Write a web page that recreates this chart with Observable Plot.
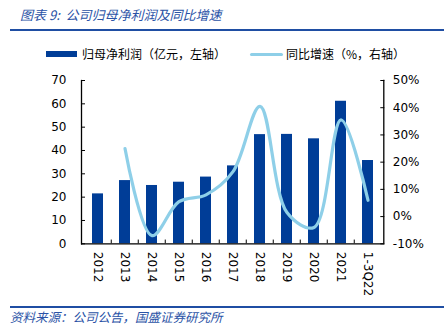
<!DOCTYPE html>
<html><head><meta charset="utf-8">
<script src="https://cdn.jsdelivr.net/npm/d3@7"></script>
<script src="https://cdn.jsdelivr.net/npm/@observablehq/plot@0.6"></script>
<style>
body{margin:0;background:#fff;width:444px;height:336px;overflow:hidden;position:relative;font-family:"Noto Sans CJK SC",sans-serif;}
#title{position:absolute;left:20px;top:5px;font-size:13px;font-style:italic;color:#2a52a6;}
#tline{position:absolute;left:10px;right:0;top:28.5px;height:2px;background:#1f4ea3;}
#legend{position:absolute;top:45px;left:0;width:444px;font-size:12px;color:#000;}
.lg{position:absolute;top:0;white-space:nowrap;}
#chart{position:absolute;left:0;top:65px;}
#bline{position:absolute;left:10px;right:0;top:306px;height:1.5px;background:#1f4ea3;}
#src{position:absolute;left:10px;top:307px;font-size:12.5px;font-style:italic;color:#2a52a6;}
</style></head>
<body>
<div id="title">图表 9:&nbsp; 公司归母净利润及同比增速</div>
<div id="tline"></div>
<div id="legend">
  <div class="lg" style="left:46px;top:6px;width:31px;height:6px;background:#003d97"></div>
  <div class="lg" style="left:82px;">归母净利润（亿元，左轴）</div>
  <div class="lg" style="left:250px;top:7.5px;width:33px;height:3px;background:#8ecfe8;border-radius:1.5px"></div>
  <div class="lg" style="left:286px;">同比增速（%，右轴）</div>
</div>
<div id="chart"></div>
<div id="bline"></div>
<div id="src">资料来源：公司公告，国盛证券研究所</div>
<script>
const categories = ["2012","2013","2014","2015","2016","2017","2018","2019","2020","2021","1-3Q22"];
const profit = [21.4, 27.1, 25.0, 26.4, 28.6, 33.4, 46.8, 46.9, 45.0, 61.1, 35.7];
const growthCats = ["2013","2014","2015","2016","2017","2018","2019","2020","2021","1-3Q22"];
const growth = [25.0, -7.0, 5.5, 8.0, 16.5, 40.5, 1.5, -4.0, 35.5, 6.0];
const leftTicks = [0,10,20,30,40,50,60,70];
const rightTicks = [-10,0,10,20,30,40,50];

// map right-axis percent onto left units: -10% -> 0, 50% -> 70
const toLeft = p => (p + 10) * 70 / 60;
const fromLeft = v => Math.round(v * 60 / 70 - 10);

const bars = categories.map((c,i)=>({cat:c, v:profit[i]}));
const line = growthCats.map((c,i)=>({cat:c, v:toLeft(growth[i])}));

const W = 444, H = 240, mL = 81, mR = 60.7;
const step = (W - mL - mR) / categories.length;

const chart = Plot.plot({
  width: W, height: H,
  marginTop: 15, marginBottom: 61.7, marginLeft: mL, marginRight: mR,
  style: {fontFamily: "DejaVu Sans, sans-serif", fontSize: "12px", color: "#000", background: "transparent"},
  x: {domain: categories, paddingInner: 0.6, paddingOuter: 0.3, label: null},
  y: {domain: [0, 70], label: null},
  marks: [
    Plot.barY(bars, {x: "cat", y: "v", fill: "#003d97"}),
    Plot.line(line, {x: "cat", y: "v", stroke: "#8ecfe8", strokeWidth: 3.2, curve: "catmull-rom"}),
    Plot.ruleX(categories.slice(1), {x: d => d, dx: -step/2, y1: 0, y2: 1.6, stroke: "#000", strokeWidth: 1}),
    Plot.axisX({tickSize: 0, tickRotate: 90, tickPadding: 8, fontSize: 12, label: null}),
    Plot.axisY({anchor: "left", ticks: leftTicks, tickSize: -4, tickPadding: 19, label: null, fontSize: 12}),
    Plot.axisY({anchor: "right", ticks: rightTicks.map(toLeft), tickFormat: d => fromLeft(d) + "%", tickSize: -4, tickPadding: 13, label: null, fontSize: 12}),
    Plot.frame({anchor: "left", stroke: "#000", strokeWidth: 1.3}),
    Plot.frame({anchor: "right", stroke: "#000", strokeWidth: 1.3}),
    Plot.ruleY([0], {stroke: "#000", strokeWidth: 1.3})
  ]
});
document.getElementById("chart").appendChild(chart);
</script>
</body></html>
